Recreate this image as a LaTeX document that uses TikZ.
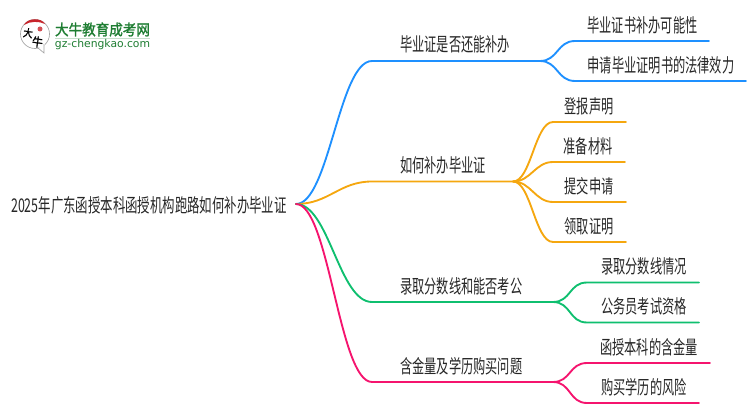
\documentclass[tikz,border=0pt]{standalone}
\usepackage{fontspec}
\usetikzlibrary{calc}
\newfontfamily\cjk[FakeStretch=0.645]{Noto Sans CJK SC}
\newfontfamily\cjkroot[FakeStretch=0.655]{Noto Sans CJK SC}
\newfontfamily\cjkbold[FakeStretch=0.9,FakeBold=1.5]{Noto Sans CJK SC}
\definecolor{blueline}{HTML}{1E90FF}
\definecolor{orangeline}{HTML}{F5A70F}
\definecolor{greenline}{HTML}{0FBF6F}
\definecolor{pinkline}{HTML}{F5146E}
\definecolor{logogreen}{HTML}{1E7D32}
\definecolor{logored}{HTML}{C8242B}
\tikzset{
    label/.style={font=\cjk\fontsize{14.2}{16}\selectfont,text=black!85,inner sep=0pt,anchor=center},
    branch/.style={line width=1.4pt,line cap=round},
}
\begin{document}
\begin{tikzpicture}[x=0.75pt,y=-0.75pt]
    \useasboundingbox (0,0) rectangle (750,410);
    % logo
    \begin{scope}
    \draw [black!35,line width=0.5pt,fill=white] (35,34) circle (14.5);
    \fill [white] (38,46) -- (44,53) -- (45,42) -- cycle;
    \draw [black!35,line width=0.5pt] (38,48) -- (44,53) -- (44,44);
    \fill [logored] (24,25) .. controls (27,18) and (41,17) .. (45,24) .. controls (39,21) and (30,21) .. (24,25) -- cycle;
    \fill [logored!80] (40,29) circle (2.5);
    \end{scope}
    \node (logoda) [inner sep=0pt,rotate=-8,font=\cjkbold\fontsize{8}{8}\selectfont] at (28,33) {大};
    \node (logoniu) [inner sep=0pt,rotate=-8,font=\cjkbold\fontsize{9}{9}\selectfont] at (37.5,42) {牛};
    \node (logotitle) [inner sep=0pt,text=logogreen,font=\cjkbold\fontsize{11.3}{12}\selectfont] at (102.5,29.5) {大牛教育成考网};
    \draw [logogreen!25] (55,38.5) -- (150,38.5);
    \node (logourl) [inner sep=0pt,text=logogreen,font=\fontspec{DejaVu Sans}\fontsize{8.1}{9}\selectfont] at (102.5,45) {gz-chengkao.com};

    % root and main branches
    \node (root) [label,font=\cjkroot\fontsize{14.2}{16}\selectfont] at (149,205) {2025年广东函授本科函授机构跑路如何补办毕业证};
    \coordinate (start) at (296,204);
    \coordinate (bluea) at (372,61);   \coordinate (blueb) at (540,61);
    \coordinate (orangea) at (372,181.5); \coordinate (orangeb) at (513,181.5);
    \coordinate (greena) at (372,302); \coordinate (greenb) at (553,302);
    \coordinate (pinka) at (372,382);  \coordinate (pinkb) at (553,382);
    \foreach \c/\a/\b in {blueline/bluea/blueb,orangeline/orangea/orangeb,greenline/greena/greenb,pinkline/pinka/pinkb}{
        \draw [branch,\c] (start) .. controls ($(start)+(33,0)$) and ($(\a)+(-33,0)$) .. (\a) -- (\b);
    }
    \node (q1) [label,anchor=west] at (400,44.5) {毕业证是否还能补办};
    \node (q2) [label,anchor=west] at (400,165) {如何补办毕业证};
    \node (q3) [label,anchor=west] at (400,286) {录取分数线和能否考公};
    \node (q4) [label,anchor=west] at (400,366) {含金量及学历购买问题};

    % leaves
    \foreach \c/\b/\y/\xa/\xb/\txt/\tx/\n in {
        blueline/blueb/41/575/709/毕业证书补办可能性/642.5/a,
        blueline/blueb/81/575/746/申请毕业证明书的法律效力/661/b,
        orangeline/orangeb/122/553/626/登报声明/589/c,
        orangeline/orangeb/162/553/625/准备材料/588/d,
        orangeline/orangeb/202/553/626/提交申请/589/e,
        orangeline/orangeb/242/553/626/领取证明/589/f,
        greenline/greenb/282.5/587/699/录取分数线情况/644/g,
        greenline/greenb/322.5/587/699/公务员考试资格/644/h,
        pinkline/pinkb/363/587/710/函授本科的含金量/649/i,
        pinkline/pinkb/403/587/699/购买学历的风险/644/j}{
        \node (leaf\n) [label] at (\tx,\y-16) {\txt};
        \coordinate (la\n) at (\xa,\y);
        \coordinate (lb\n) at (\xb,\y);
        \draw [branch,\c] (\b) .. controls ($(\b)+(18,0)$) and ($(la\n)+(-18,0)$) .. (la\n) -- (lb\n);
    }
\end{tikzpicture}
\end{document}
